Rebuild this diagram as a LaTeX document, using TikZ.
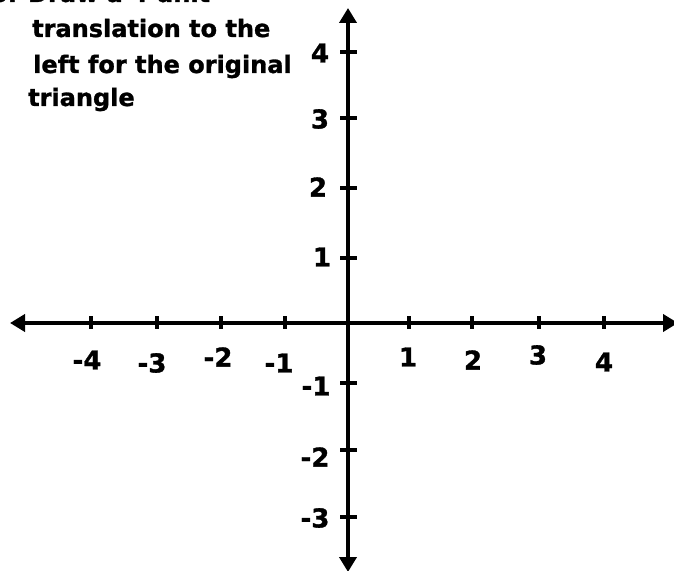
\documentclass[tikz,border=0pt]{standalone}
\usepackage{fontspec}
\setmainfont{DejaVu Sans}[BoldFeatures={FakeBold=1.2}]
\usetikzlibrary{arrows.meta}

\begin{document}
\begin{tikzpicture}[x=1pt,y=1pt,
  axisline/.style={black,line width=4.5pt,{Triangle[length=15pt,width=17pt]}-{Triangle[length=15pt,width=17pt]}},
  axistick/.style={black,line width=3.5pt},
  num/.style={inner sep=0pt,font=\fontsize{26}{26}\selectfont\bfseries},
  words/.style={anchor=base west,inner sep=0pt,font=\fontsize{24}{24}\selectfont\bfseries}]
\useasboundingbox (0,0) rectangle (674,570);
\clip (0,0) rectangle (674,570);
\coordinate (xl) at (10,247);
\coordinate (xr) at (678,247);
\coordinate (yb) at (348,-2);
\coordinate (yt) at (348,562);
\draw[axisline] (xl) -- (xr);
\draw[axisline] (yb) -- (yt);
\draw[axistick] (91,241) -- (91,254);
\draw[axistick] (157,241) -- (157,254);
\draw[axistick] (221,241) -- (221,254);
\draw[axistick] (285,241) -- (285,254);
\draw[axistick] (409,241) -- (409,254);
\draw[axistick] (472,241) -- (472,254);
\draw[axistick] (539,241) -- (539,254);
\draw[axistick] (604,241) -- (604,254);
\draw[axistick] (340,518) -- (357,518);
\draw[axistick] (340,452) -- (357,452);
\draw[axistick] (340,382) -- (357,382);
\draw[axistick] (340,312) -- (357,312);
\draw[axistick] (340,187) -- (357,187);
\draw[axistick] (340,120) -- (357,120);
\draw[axistick] (340,53) -- (357,53);
\node[num] (xm4) at (87,210) {-4};
\node[num] (xm3) at (152,207) {-3};
\node[num] (xm2) at (218,213) {-2};
\node[num] (xm1) at (279,207) {-1};
\node[num] (xp1) at (408,213) {1};
\node[num] (xp2) at (473,210) {2};
\node[num] (xp3) at (538,215) {3};
\node[num] (xp4) at (604,208) {4};
\node[num] (yp4) at (320,517) {4};
\node[num] (yp3) at (320,451) {3};
\node[num] (yp2) at (318,383) {2};
\node[num] (yp1) at (322,313) {1};
\node[num] (ym1) at (316,184) {-1};
\node[num] (ym2) at (315,113) {-2};
\node[num] (ym3) at (315,52) {-3};
\begin{scope}
\clip (0,0) rectangle (293,570);
\node[words] (task0) at (-9,568) {3. Draw a 4 unit};
\node[words] (task1) at (32,533) {translation to the};
\node[words] (task2) at (33,497) {left for the original};
\node[words] (task3) at (28,464) {triangle};
\end{scope}
\end{tikzpicture}
\end{document}
